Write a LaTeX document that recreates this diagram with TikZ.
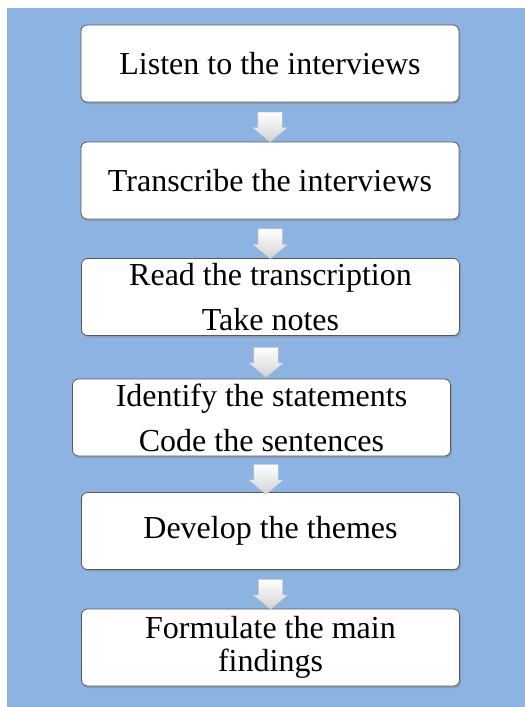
\documentclass[tikz,border=0pt]{standalone}
\usepackage{fontspec}
\setmainfont{Liberation Serif}
\usetikzlibrary{calc,shapes.arrows,shadows}
\definecolor{bgblue}{RGB}{141,179,226}
\definecolor{boxline}{RGB}{89,89,89}

\begin{document}
\begin{tikzpicture}[x=1pt,y=-1pt,inner sep=0pt,outer sep=0pt,
stepbox/.style={draw=boxline,fill=white,rectangle,rounded corners=6pt,minimum width=378pt,minimum height=77pt,align=center,line width=0.8pt,font=\fontsize{32}{33}\selectfont,drop shadow={shadow xshift=1.5pt,shadow yshift=-2pt,opacity=0.45}},
downarrow/.style={single arrow,shape border rotate=270,inner xsep=12pt,inner ysep=0pt,minimum height=30pt,single arrow head extend=5pt,single arrow tip angle=100,top color=white,bottom color=gray!35,draw=gray!45,line width=0.3pt}]

%%% Background %%%%%
\useasboundingbox (0,0) rectangle (525,707);
\fill[bgblue] (7,8) rectangle (525,707);

%%% Steps, top to bottom %%%%%
\draw (270,63.5) node[stepbox] (listen) {Listen to the interviews};
\draw (270,180.5) node[stepbox] (transcribe) {Transcribe the interviews};
\draw (270.5,297) node[stepbox] (read) {Read the transcription\\[12pt]Take notes};
\draw (261.5,417.5) node[stepbox] (identify) {Identify the statements\\[12pt]Code the sentences};
\draw (270.5,531) node[stepbox] (develop) {Develop the themes};
\draw (270.5,647.5) node[stepbox] (formulate) {Formulate the main\\findings};
%%%%%%%%%%%%%%%%%%%%%%%%%

%%% Arrows between the steps
\draw ($(listen.south)!0.5!(transcribe.north)$) node[downarrow] (a1) {};
\draw ($(transcribe.south)!0.5!(read.north)$) node[downarrow] (a2) {};
\draw ($(read.south)!0.5!(identify.north)$) node[downarrow] (a3) {};
\draw ($(identify.south)!0.5!(develop.north)$) node[downarrow] (a4) {};
\draw ($(develop.south)!0.5!(formulate.north)$) node[downarrow] (a5) {};

\end{tikzpicture}
\end{document}
